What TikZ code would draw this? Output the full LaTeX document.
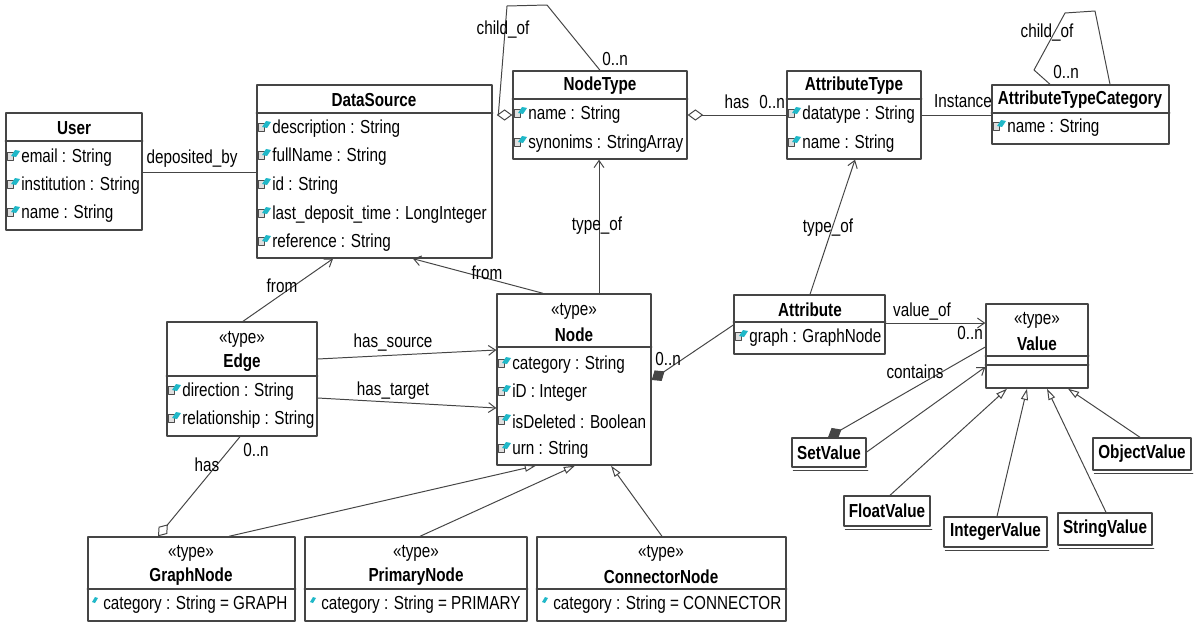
\documentclass[tikz,border=0pt]{standalone}
\usepackage{fontspec}
\setmainfont{Liberation Sans}[FakeStretch=0.81]
\usetikzlibrary{arrows.meta,fit}
\definecolor{lncol}{HTML}{454545}
\definecolor{icocyan}{HTML}{20B8C8}
\newcommand\umlfont{\fontsize{13.4}{15}\selectfont}
\tikzset{
	cls/.style={draw=lncol,line width=1pt,inner sep=0pt,fill=white},
	ttl/.style={inner sep=0pt,font=\umlfont\bfseries},
	stereo/.style={inner sep=0pt},
	attr/.style={inner sep=0pt,anchor=west},
	lbl/.style={inner sep=0pt},
	conn/.style={draw=lncol,line width=.7pt},
	nav/.style={conn,-{Straight Barb[length=5pt,width=7pt]}},
	gen/.style={conn,-{Triangle[open,length=8pt,width=5pt]}},
	aggr/.style={conn,{Diamond[open,length=11pt,width=8pt]}-},
	aggrend/.style={conn,-{Diamond[open,length=11pt,width=8pt]}},
	comp/.style={conn,{Diamond[length=11pt,width=9pt]}-},
	aic/.pic={
		\draw[gray!60!black,fill=gray!25,line width=.3pt] (0,-6) rectangle (6,2);
		\fill[icocyan] (4,-2) -- (8,-8) -- (13,-7) -- (9,-1) -- cycle;
	},
	dic/.pic={
		\fill[icocyan] (0,-3) -- (3,-8) -- (6,-7) -- (3,-2) -- cycle;
	}
}
\begin{document}
\begin{tikzpicture}[x=0.025cm,y=-0.025cm,font=\umlfont,line join=round,line cap=round]
	\useasboundingbox (0,0) rectangle (1200,643);
	% class boxes
	\foreach \n/\xa/\ya/\xb/\yb in {user/6/113/142/230, ds/257/85/492/258, nt/513/71/687/159, at/787/71/921/159,
		atc/992/85/1169/144, node/497/294/651/465, edge/167/322/317/436, attr/734/295/885/354,
		val/986/304/1088/388, gn/88/537/295/621, pn/305/537/527/621, cn/537/537/786/621}
		\node[cls,fit={(\xa,\ya) (\xb,\yb)}] (\n) {};
	% compartments
	\foreach \n/\y in {user/141, ds/113, nt/99, at/99, atc/113, node/347, edge/376, attr/322, val/356, val/365, gn/589, pn/589, cn/589}
		\draw[lncol,line width=1pt] (\n.west |- 0,\y) -- (\n.east |- 0,\y);
	% names
	\node[ttl] (userT) at (74,128) {User};
	\node[ttl] (dsT) at (374,100) {DataSource};
	\node[ttl] (ntT) at (600,86) {NodeType};
	\node[ttl] (atT) at (854,86) {AttributeType};
	\node[ttl] (atcT) at (1080,100) {AttributeTypeCategory};
	\node[ttl] (attrT) at (810,310) {Attribute};
	\foreach \n/\x/\y/\lab in {edge/242/339/Edge, node/574/311/Node, val/1037/320/Value,
		gn/191/553/GraphNode, pn/416/553/PrimaryNode, cn/661/553/ConnectorNode} {
		\node[stereo] (\n S) at (\x,\y) {«type»};
		\node[ttl] (\n T) at (\x,\y+24) {\lab};
	}
	% attributes
	\foreach \x/\y/\t [count=\i] in {
		7/158/email : String, 7/186/institution : String, 7/214/name : String,
		258/129/description : String, 258/157/fullName : String, 258/186/id : String,
		258/215/last\_deposit\_time : LongInteger, 258/243/reference : String,
		514/115/name : String, 514/144/synonims : StringArray,
		788/115/datatype : String, 788/144/name : String,
		993/128/name : String,
		168/392/direction : String, 168/420/relationship : String,
		498/365/category : String, 498/393/iD : Integer, 498/422/isDeleted : Boolean, 498/450/urn : String,
		735/338/graph : GraphNode
	} {
		\pic at (\x,\y) {aic};
		\node[attr] (a\i) at (\x+14,\y) {\t};
	}
	\foreach \x/\t [count=\i] in {92/category : String = GRAPH, 310/category : String = PRIMARY, 542/category : String = CONNECTOR} {
		\pic at (\x,605) {dic};
		\node[attr] (c\i) at (\x+11,605) {\t};
	}
	% value kinds
	\foreach \n/\xa/\ya/\xb/\yb/\lab in {setv/792/438/866/467/SetValue, floatv/844/496/930/526/FloatValue,
		intv/944/517/1047/547/IntegerValue, strv/1058/513/1152/545/StringValue, objv/1093/438/1191/470/ObjectValue} {
		\node[cls,fit={(\xa,\ya) (\xb,\yb)}] (\n) {};
		\node[ttl] (\n T) at (\n) {\lab};
		\draw[lncol,line width=.8pt] ([shift={(2,3)}]\n.south west) -- ([shift={(1,3)}]\n.south east);
	}
	% associations
	\draw[conn] (user.east |- 0,172) -- (ds.west |- 0,172);
	\node[lbl] (l1) at (192,159) {deposited\_by};
	\draw[aggr] (nt.west |- 0,115) -- ++(-14,0) -- (507,6) -- (547,5) -- (nt.north -| 600,0);
	\node[lbl] (l2) at (503,30) {child\_of};
	\node[lbl] (l3) at (615,59) {0..n};
	\draw[aggr] (nt.east |- 0,115) -- (at.west |- 0,115);
	\node[lbl] (l4) at (737,102) {has};
	\node[lbl] (l5) at (772,102) {0..n};
	\draw[conn] (at.east |- 0,115) -- (atc.west |- 0,115);
	\node[lbl] (l6) at (963,101) {Instance};
	\draw[conn] (atc.north -| 1050,0) -- (1034,70) -- (1065,13) -- (1095,11) -- (atc.north -| 1110,0);
	\node[lbl] (l7) at (1047,33) {child\_of};
	\node[lbl] (l8) at (1066,72) {0..n};
	\draw[nav] (node.north -| 599,0) -- (nt.south -| 599,0);
	\node[lbl] (l9) at (597,226) {type\_of};
	\draw[nav] (edge.north -| 243,0) -- (ds.south -| 333,0);
	\node[lbl] (l10) at (282,286) {from};
	\draw[nav] (node.north -| 543,0) -- (ds.south -| 413,0);
	\node[lbl] (l11) at (487,273) {from};
	\draw[nav] (edge.east |- 0,359) -- (node.west |- 0,350);
	\node[lbl] (l12) at (393,343) {has\_source};
	\draw[nav] (edge.east |- 0,398) -- (node.west |- 0,408);
	\node[lbl] (l13) at (393,391) {has\_target};
	\draw[aggrend] (edge.south -| 240,0) -- (gn.north -| 158,0);
	\node[lbl] (l14) at (207,465) {has};
	\node[lbl] (l15) at (256,450) {0..n};
	\draw[comp] (node.east |- 0,380) -- (attr.west |- 0,325);
	\node[lbl] (l16) at (668,359) {0..n};
	\draw[nav] (attr.north -| 810,0) -- (at.south -| 855,0);
	\node[lbl] (l17) at (828,228) {type\_of};
	\draw[nav] (attr.east |- 0,323) -- (val.west |- 0,323);
	\node[lbl] (l18) at (922,312) {value\_of};
	\node[lbl] (l19) at (970,333) {0..n};
	\draw[comp] (setv.north -| 828,0) -- (val.west |- 0,347);
	\node[lbl] (l20) at (915,372) {contains};
	\draw[nav] (setv.east |- 0,452) -- (val.west |- 0,367);
	% generalisations
	\foreach \s/\x/\y in {gn/229/536, pn/420/575, cn/662/611}
		\draw[gen] (\s.north -| \x,0) -- (node.south -| \y,0);
	\foreach \s/\x/\y in {floatv/890/1007, intv/997/1027, strv/1106/1047, objv/1140/1068}
		\draw[gen] (\s.north -| \x,0) -- (val.south -| \y,0);
\end{tikzpicture}
\end{document}
